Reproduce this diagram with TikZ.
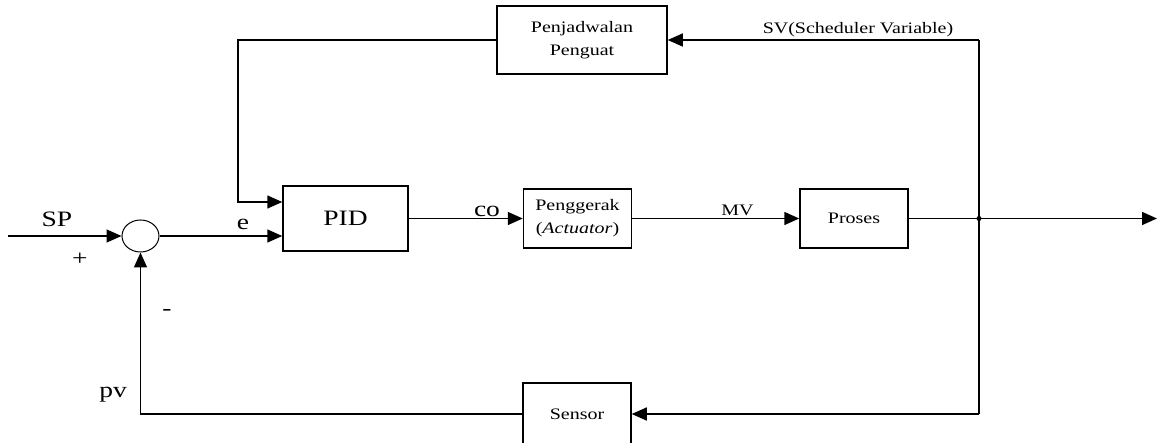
\documentclass[tikz,border=0pt]{standalone}
\usepackage{fontspec}
\setmainfont{Liberation Serif}[FakeStretch=1.25]
\usetikzlibrary{arrows.meta,shapes.geometric}
\begin{document}
\begin{tikzpicture}[x=1pt,y=-1pt,line width=1.5pt,
  blk/.style={draw,rectangle,inner sep=0pt,align=center,font=\fontsize{16}{23}\selectfont},
  arr/.style={-{Triangle[length=15pt,width=13pt]}},
  lbl/.style={inner sep=0pt,font=\fontsize{16}{23}\selectfont},
  big/.style={inner sep=0pt,font=\fontsize{22}{26}\selectfont}]
\useasboundingbox (0,0) rectangle (1157,443);
% blocks
\node[blk,minimum width=125pt,minimum height=65pt,font=\fontsize{22}{26}\selectfont] (pid) at (345.5,218.5) {PID};
\node[blk,minimum width=108pt,minimum height=59pt] (act) at (577.5,218.5) {Penggerak\\(\textit{Actuator})};
\node[blk,minimum width=108pt,minimum height=59pt] (proc) at (854,218.5) {Proses};
\node[blk,minimum width=170pt,minimum height=68pt] (sched) at (582,40) {Penjadwalan\\Penguat};
\node[blk,minimum width=108pt,minimum height=62pt] (sensor) at (577,414) {Sensor};
\node[draw,ellipse,line width=1pt,minimum width=37pt,minimum height=32pt,inner sep=0pt] (sum) at (140.5,236) {};
% coordinates
\coordinate (spin) at (8,236);
\coordinate (sk) at (238,202);
\coordinate (br) at (979,218.5);
\coordinate (out) at (1157,218.5);
\coordinate (tr) at (979,40);
\coordinate (bt) at (979,414);
% connectors
\draw[arr] (spin) -- (sum.west);
\draw[arr] (sum.east) -- (sum.east -| pid.west);
\draw[arr] (sched.west) -| (sk) -- (sk -| pid.west);
\draw[arr] (pid.east) -- (act.west);
\draw[arr] (act.east) -- (proc.west);
\draw[arr] (proc.east) -- (out);
\draw (tr) -- (bt);
\draw[arr] (tr) -- (sched.east);
\draw[arr] (bt) -- (sensor.east);
\draw[arr] (sensor.west) -| (sum.south);
\fill (br) circle (2.5pt);
% labels
\node[big] (lsp) at (57,219) {SP};
\node[big] (lplus) at (80,259) {+};
\node[big] (le) at (243,224) {e};
\node[big] (lco) at (487,211) {co};
\node[lbl] (lmv) at (737.5,210) {MV};
\node[lbl] (lsv) at (858,30) {SV(Scheduler Variable)};
\node[big] (lminus) at (167,312) {-};
\node[big] (lpv) at (113,395) {pv};
\end{tikzpicture}
\end{document}
